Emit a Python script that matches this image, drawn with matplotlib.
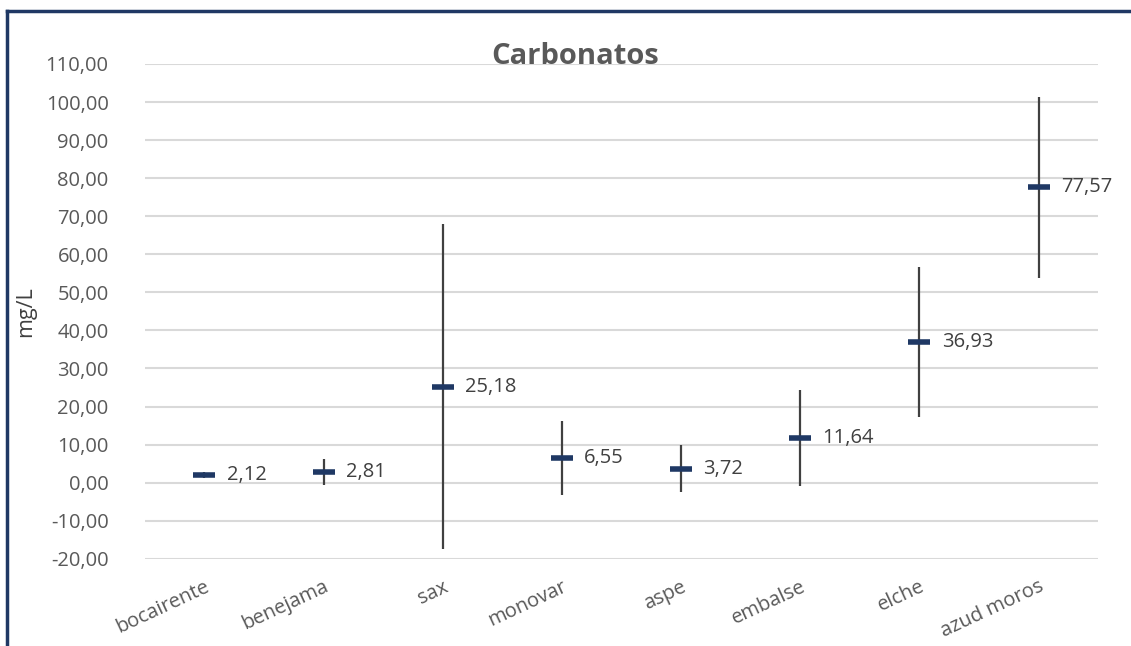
import matplotlib
matplotlib.use("Agg")
import matplotlib.pyplot as plt
from matplotlib.lines import Line2D

plt.rcParams['font.family'] = ['Open Sans', 'DejaVu Sans']

# sampling points and mean carbonate values (mg/L)
sites = ["bocairente", "benejama", "sax", "monovar", "aspe", "embalse", "elche", "azud moros"]
means = [2.12, 2.81, 25.18, 6.55, 3.72, 11.64, 36.93, 77.57]
# error bar half-widths
errors = [0.8, 3.5, 42.7, 9.7, 6.2, 12.6, 19.7, 23.7]

y_ticks = list(range(-20, 111, 10))

fig = plt.figure(figsize=(11.31, 6.46), dpi=100)
ax = fig.add_axes([0.128, 0.135, 0.843, 0.766])

x = list(range(len(sites)))
ax.errorbar(x, means, yerr=errors, fmt='none', ecolor='#404040', elinewidth=1.6, capsize=0, zorder=3)
ax.plot(x, means, linestyle='none', marker='_', markersize=16, markeredgewidth=4,
        color='#1F3864', zorder=4)

for xi, v in zip(x, means):
    ax.annotate("{:.2f}".format(v).replace(".", ","), xy=(xi, v), xytext=(16, 0),
                textcoords='offset points', ha='left', va='center',
                fontsize=14.5, color='#404040', zorder=5)

ax.set_xlim(-0.5, len(sites) - 0.5)
ax.set_ylim(-20, 110)
ax.set_yticks(y_ticks)
ax.set_yticklabels(["{:.2f}".format(t).replace(".", ",") for t in y_ticks])
ax.set_xticks(x)
ax.set_xticklabels(sites, rotation=25, ha='right', va='top', rotation_mode='anchor')

ax.grid(axis='y', color='#D9D9D9', linewidth=1.5, zorder=0)
ax.set_axisbelow(True)
for side in ['top', 'right', 'bottom', 'left']:
    ax.spines[side].set_visible(False)
ax.tick_params(axis='both', length=0, labelsize=14.5, labelcolor='#595959')
ax.tick_params(axis='y', pad=26)
ax.tick_params(axis='x', pad=13)

ax.set_ylabel("mg/L", fontsize=15.5, color='#404040', labelpad=8)
ax.yaxis.set_label_coords(-0.114, 0.5)

fig.text(575 / 1131, 1 - 56 / 646, "Carbonatos", ha='center', va='center',
         fontsize=21, fontweight='bold', color='#595959')

# chart frame border (left and top visible)
fig.add_artist(Line2D([7 / 1131, 7 / 1131], [0, 1 - 11 / 646], transform=fig.transFigure,
                      color='#1F3864', linewidth=2.5))
fig.add_artist(Line2D([7 / 1131, 1], [1 - 11 / 646, 1 - 11 / 646], transform=fig.transFigure,
                      color='#1F3864', linewidth=2.5))

plt.savefig("out.png", dpi=100, facecolor='white')
